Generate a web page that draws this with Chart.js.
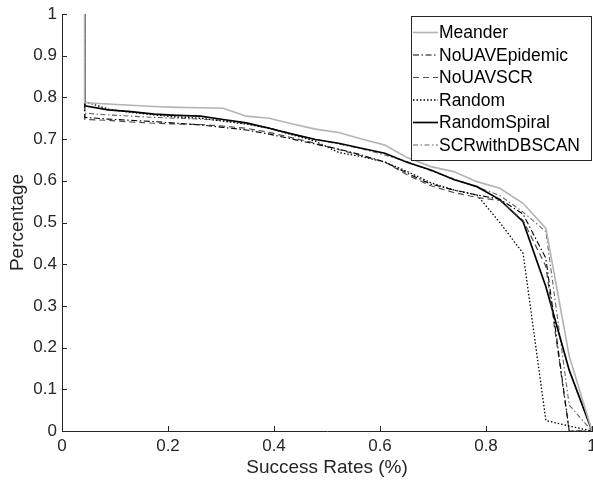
<!DOCTYPE html>
<html>
<head>
<meta charset="utf-8">
<script src="https://cdn.jsdelivr.net/npm/chart.js@4.4.1/dist/chart.umd.min.js"></script>
<style>
html,body{margin:0;padding:0;background:#fff;}
#wrap{width:593px;height:487px;position:relative;}
</style>
</head>
<body>
<div id="wrap"><canvas id="c" width="593" height="487"></canvas></div>
<script>
const xValues = [0.043, 0.043, 0.087, 0.130, 0.174, 0.217, 0.261, 0.304, 0.348, 0.391, 0.435, 0.478, 0.522, 0.565, 0.609, 0.652, 0.696, 0.739, 0.783, 0.826, 0.870, 0.913, 0.957, 1.000];
const meander       = [1.0, 0.787, 0.784, 0.781, 0.778, 0.776, 0.775, 0.774, 0.755, 0.750, 0.736, 0.724, 0.716, 0.700, 0.686, 0.655, 0.634, 0.622, 0.598, 0.582, 0.546, 0.486, 0.180, 0.0];
const noUAVEpidemic = [1.0, 0.752, 0.748, 0.745, 0.742, 0.738, 0.734, 0.728, 0.722, 0.712, 0.700, 0.688, 0.676, 0.662, 0.645, 0.618, 0.592, 0.578, 0.566, 0.556, 0.520, 0.414, 0.0, 0.0];
const noUAVSCR      = [1.0, 0.747, 0.745, 0.741, 0.738, 0.736, 0.735, 0.731, 0.726, 0.716, 0.703, 0.690, 0.675, 0.660, 0.645, 0.614, 0.588, 0.572, 0.560, 0.553, 0.505, 0.395, 0.0, 0.0];
const random        = [1.0, 0.790, 0.772, 0.764, 0.758, 0.753, 0.750, 0.743, 0.736, 0.726, 0.710, 0.695, 0.668, 0.658, 0.645, 0.622, 0.595, 0.578, 0.566, 0.500, 0.426, 0.025, 0.012, 0.0];
const randomSpiral  = [1.0, 0.780, 0.770, 0.766, 0.760, 0.757, 0.755, 0.747, 0.739, 0.726, 0.712, 0.699, 0.690, 0.678, 0.666, 0.644, 0.626, 0.603, 0.586, 0.555, 0.502, 0.346, 0.146, 0.0];
const scrWithDBSCAN = [1.0, 0.762, 0.758, 0.755, 0.752, 0.750, 0.748, 0.745, 0.737, 0.727, 0.712, 0.700, 0.688, 0.677, 0.662, 0.646, 0.624, 0.605, 0.585, 0.565, 0.525, 0.478, 0.062, 0.0];

const seriesNames = ["Meander", "NoUAVEpidemic", "NoUAVSCR", "Random", "RandomSpiral", "SCRwithDBSCAN"];
const xTickValues = [0, 0.2, 0.4, 0.6, 0.8, 1];
const xTickLabels = ["0", "0.2", "0.4", "0.6", "0.8", "1"];
const yTickValues = [0, 0.1, 0.2, 0.3, 0.4, 0.5, 0.6, 0.7, 0.8, 0.9, 1];
const yTickLabels = ["0", "0.1", "0.2", "0.3", "0.4", "0.5", "0.6", "0.7", "0.8", "0.9", "1"];

const FONT = "'Liberation Sans', Arial, Helvetica, sans-serif";
const AXIS = "#262626";

const styles = [
  {color: "#b3b3b3", width: 1.6, dash: []},
  {color: "#000000", width: 1.1, dash: [6, 2.5, 1.5, 2.5]},
  {color: "#4d4d4d", width: 1.2, dash: [6, 4]},
  {color: "#000000", width: 1.3, dash: [1.5, 2]},
  {color: "#000000", width: 1.7, dash: []},
  {color: "#666666", width: 1.1, dash: [5, 2.5, 1.5, 2.5]}
];
const seriesData = [meander, noUAVEpidemic, noUAVSCR, random, randomSpiral, scrWithDBSCAN];

const datasets = seriesData.map((arr, i) => ({
  label: seriesNames[i],
  data: arr.map((y, j) => ({x: xValues[j], y: y})),
  borderColor: styles[i].color,
  borderWidth: styles[i].width,
  borderDash: styles[i].dash,
  pointRadius: 0,
  fill: false,
  tension: 0
}));

const inwardTicks = {
  id: 'inwardTicks',
  afterDatasetsDraw(chart) {
    const ctx = chart.ctx, xs = chart.scales.x, ys = chart.scales.y, a = chart.chartArea;
    ctx.save();
    ctx.strokeStyle = AXIS;
    ctx.lineWidth = 1;
    ctx.beginPath();
    xTickValues.forEach(v => {
      const px = Math.round(xs.getPixelForValue(v)) + 0.5;
      ctx.moveTo(px, a.bottom); ctx.lineTo(px, a.bottom - 5);
    });
    yTickValues.forEach(v => {
      const py = Math.round(ys.getPixelForValue(v)) + 0.5;
      ctx.moveTo(a.left, py); ctx.lineTo(a.left + 5, py);
    });
    ctx.stroke();
    ctx.restore();
  }
};

const boxLegend = {
  id: 'boxLegend',
  afterDraw(chart) {
    const ctx = chart.ctx, a = chart.chartArea;
    const w = 180, h = 144;
    const right = a.right - 1, left = right - w, top = a.top + 2;
    ctx.save();
    ctx.fillStyle = "#fff";
    ctx.fillRect(left, top, w, h);
    ctx.strokeStyle = AXIS;
    ctx.lineWidth = 1;
    ctx.strokeRect(Math.round(left) + 0.5, Math.round(top) + 0.5, w, h);
    ctx.font = "17.5px " + FONT;
    ctx.textBaseline = "middle";
    ctx.textAlign = "left";
    chart.data.datasets.forEach((ds, i) => {
      const cy = top + 16.5 + i * 22.5;
      ctx.beginPath();
      ctx.strokeStyle = ds.borderColor;
      ctx.lineWidth = ds.borderWidth;
      ctx.setLineDash(ds.borderDash || []);
      ctx.moveTo(left + 2, cy);
      ctx.lineTo(left + 27, cy);
      ctx.stroke();
      ctx.setLineDash([]);
      ctx.fillStyle = "#000";
      ctx.fillText(ds.label, left + 28, cy + 1);
    });
    ctx.restore();
  }
};

new Chart(document.getElementById('c'), {
  type: 'line',
  data: {datasets: datasets},
  plugins: [inwardTicks, boxLegend],
  options: {
    responsive: false,
    animation: false,
    layout: {padding: {top: 14, right: 1, bottom: 0, left: 0}},
    plugins: {legend: {display: false}, tooltip: {enabled: false}},
    scales: {
      x: {
        type: 'linear',
        min: 0, max: 1,
        grid: {display: false, drawTicks: false},
        border: {display: true, color: AXIS, width: 1},
        afterBuildTicks: s => { s.ticks = xTickValues.map(v => ({value: v})); },
        afterFit: s => { s.height = 56; s.paddingLeft = 0; s.paddingRight = 0; },
        ticks: {
          padding: 5, color: AXIS, maxRotation: 0, autoSkip: false,
          font: {family: FONT, size: 17},
          callback: v => { const i = xTickValues.indexOf(v); return i >= 0 ? xTickLabels[i] : ''; }
        },
        title: {display: true, text: 'Success Rates (%)', color: AXIS, font: {family: FONT, size: 19}, padding: {top: 0, bottom: 8}}
      },
      y: {
        type: 'linear',
        min: 0, max: 1,
        grid: {display: false, drawTicks: false},
        border: {display: true, color: AXIS, width: 1},
        afterBuildTicks: s => { s.ticks = yTickValues.map(v => ({value: v})); },
        afterFit: s => { s.width = 62; s.paddingTop = 0; s.paddingBottom = 0; },
        ticks: {
          padding: 5, color: AXIS, autoSkip: false,
          font: {family: FONT, size: 17},
          callback: v => { const i = yTickValues.indexOf(v); return i >= 0 ? yTickLabels[i] : ''; }
        },
        title: {display: true, text: 'Percentage', color: AXIS, font: {family: FONT, size: 19}, padding: {top: 6, bottom: 0}}
      }
    }
  }
});
</script>
</body>
</html>
